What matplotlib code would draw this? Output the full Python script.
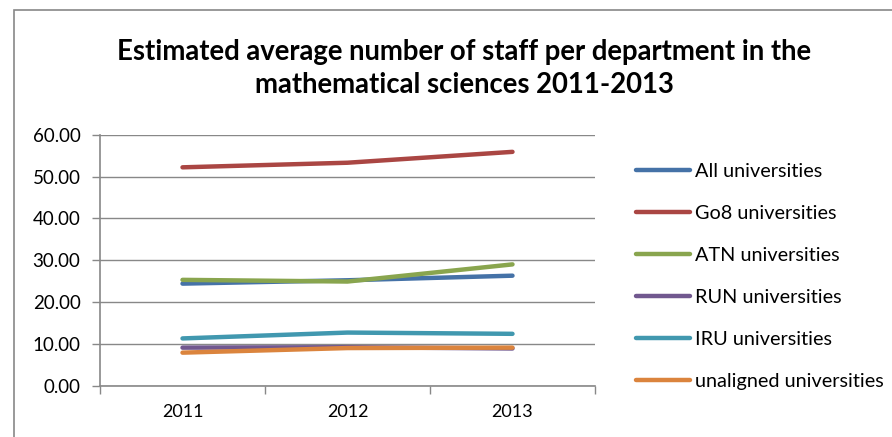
import matplotlib
matplotlib.use("Agg")
import matplotlib.pyplot as plt
from matplotlib.patches import Rectangle

years = ["2011", "2012", "2013"]
series_names = ["All universities", "Go8 universities", "ATN universities",
                "RUN universities", "IRU universities", "unaligned universities"]
all_uni = [24.4, 25.2, 26.3]
go8 = [52.2, 53.3, 55.9]
atn = [25.3, 24.9, 29.0]
run = [9.1, 9.2, 8.9]
iru = [11.3, 12.7, 12.4]
unaligned = [7.9, 9.0, 9.1]
values = [all_uni, go8, atn, run, iru, unaligned]
colors = ["#4572A7", "#AA4643", "#89A54E", "#71588F", "#4198AF", "#DB843D"]
yticks = [0, 10, 20, 30, 40, 50, 60]

W, H = 892, 437
fig = plt.figure(figsize=(W / 100, H / 100), dpi=100)
plt.rcParams['font.family'] = ['Lato', 'DejaVu Sans']

# outer chart border (cut off at right and bottom)
fig.patches.append(Rectangle((14 / W, -0.1), 1.2, 1 - 10 / H + 0.1,
                             transform=fig.transFigure, fill=False,
                             edgecolor="#888888", linewidth=1.2))

left, right, top, bottom = 100, 595, 134.7, 385.7
ax = fig.add_axes([left / W, 1 - bottom / H, (right - left) / W, (bottom - top) / H])

x = list(range(len(years)))
for name, vals, c in zip(series_names, values, colors):
    ax.plot(x, vals, color=c, lw=3.2, solid_capstyle="round", label=name)

ax.set_xlim(-0.5, len(years) - 0.5)
ax.set_ylim(0, 60)
ax.set_yticks(yticks)
ax.set_yticklabels([f"{v:.2f}" for v in yticks], fontsize=13.5)
ax.set_xticks(x)
ax.set_xticklabels(years, fontsize=13)
ax.set_xticks([-0.5, 0.5, 1.5, 2.5], minor=True)
ax.tick_params(axis="x", which="major", length=0, pad=13)
ax.tick_params(axis="x", which="minor", length=6, color="#888888", width=1)
ax.tick_params(axis="y", length=6, color="#888888", width=1, pad=8)
ax.grid(axis="y", color="#888888", linewidth=1)
ax.set_axisbelow(True)
for s in ["top", "right"]:
    ax.spines[s].set_visible(False)
for s in ["left", "bottom"]:
    ax.spines[s].set_color("#888888")
    ax.spines[s].set_linewidth(1.2)

fig.text(464 / W, 1 - 68.5 / H,
         "Estimated average number of staff per department in the\nmathematical sciences 2011-2013",
         ha="center", va="center", fontsize=19.8, fontweight="bold", linespacing=1.33)

leg = fig.legend(loc="upper left", bbox_to_anchor=(618 / W, 1 - 145 / H),
                 frameon=False, fontsize=14.3, handlelength=2.75, handletextpad=0.25,
                 labelspacing=1.26)
for line in leg.get_lines():
    line.set_linewidth(3.2)

fig.savefig("out.png", dpi=100)
